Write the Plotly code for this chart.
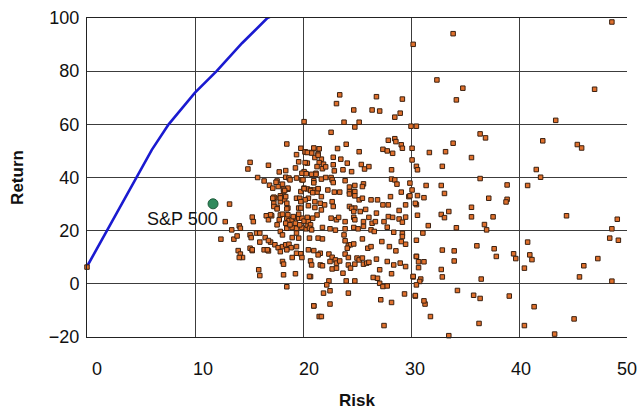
import plotly.graph_objects as go

# ---------------- data ----------------
frontier_risk = [0.0, 1.85, 3.24, 4.63, 6.0, 7.56, 10.0, 12.0, 14.35, 16.7, 17.3]
frontier_return = [6.5, 20.0, 30.3, 40.0, 50.4, 60.0, 71.9, 80.0, 90.5, 100.0, 101.1]

sp500_risk = [11.67]
sp500_return = [30.1]
sp500_label = "S&P 500"

fund_risk = [
    0.0, 30.2,
    # right side (risk > 30)
    48.6, 33.9, 32.4, 34.8, 34.2, 47.0, 43.4, 36.4, 36.9, 42.2, 45.4, 45.8, 33.9, 31.7, 33.2, 35.6,
    32.9, 36.4, 38.9, 41.6, 42.0, 40.8, 31.4, 32.8, 33.1, 31.2, 37.2, 38.9,
    33.5, 32.8, 33.1, 35.6, 35.6, 37.6, 38.8, 44.4, 49.1, 48.6, 34.2, 31.6, 31.1, 36.8, 37.0, 48.4,
    49.2, 40.8, 36.1, 32.9, 34.0, 37.7, 37.9, 39.5, 39.7, 41.0, 41.2, 34.0, 47.3, 46.0, 40.5, 32.8,
    32.9, 45.6, 36.5, 48.6, 34.3, 35.8, 36.4, 39.1, 41.4, 45.1, 36.3, 40.5, 43.3, 33.5, 31.8, 31.3, 31.2,
    30.5, 30.6, 30.5, 30.5, 30.7, 31.2, 30.7, 30.2, 30.9, 30.8, 30.4,
    # risk 20-31, return above 29
    23.4, 26.8, 29.2, 23.1, 24.7, 26.4, 27.1, 29.0, 28.5, 23.8, 25.2, 24.8, 30.0, 30.5, 22.6, 27.9,
    28.5, 28.6, 29.1, 29.2, 27.4, 27.8, 28.3, 30.1, 24.0, 23.2, 25.2, 21.0, 20.2, 20.8, 21.5, 21.4,
    21.1, 21.7, 21.5, 21.9, 21.3, 21.8, 22.1, 22.8, 23.5, 20.4, 20.2, 22.8, 24.1, 22.9, 23.7, 24.5,
    25.4, 25.7, 26.1, 28.2, 20.8, 21.2, 21.0, 21.7, 22.1, 22.6, 22.7, 22.8, 23.9, 24.3, 24.8, 24.7,
    25.6, 25.5, 28.2, 28.5, 28.7, 29.9, 30.1, 20.4, 20.7, 21.0, 21.4, 21.3, 21.7, 22.3, 22.9, 23.4,
    24.3, 24.8, 24.8, 25.2, 25.5, 26.3, 26.9, 28.1, 29.8, 24.3, 24.8, 21.6, 22.7, 20.5, 20.2, 21.1,
    27.9, 30.4, 30.1, 30.5, 30.6, 29.1, 30.6, 29.9, 24.3,
    # risk 10-20, return above 29
    20.1, 18.5, 19.8, 20.2, 19.4, 15.1, 14.9, 16.8, 19.6, 20.2, 19.3, 17.8, 18.4, 20.1, 15.8, 16.4,
    18.4, 18.7, 18.8, 19.4, 19.9, 17.6, 16.9, 17.2, 17.7, 18.1, 18.2, 18.6, 18.2, 17.9, 18.1, 17.4,
    18.3, 19.4, 19.7, 19.8, 20.1, 19.8, 17.3, 17.9, 18.5, 13.2, 17.6, 18.6, 19.6,
    17.5, 18.6, 18.3, 19.9, 20.3, 21.2, 20.0, 21.0, 20.1, 20.7, 20.9, 21.4, 17.3, 17.9, 18.4, 21.4,
    20.8, 21.0, 20.4, 17.2,
    # risk 10-21, return below 30
    17.3, 17.6, 18.5, 19.8, 15.3, 15.4, 12.8, 16.6, 16.8, 17.1, 17.9, 17.8, 18.5, 18.7, 19.0, 19.3,
    19.6, 19.9, 17.6, 18.5, 19.0, 19.4, 19.9, 20.3, 14.1, 14.2, 13.4, 17.9, 15.7, 16.0, 16.5, 15.1,
    15.2, 18.1, 19.4, 19.6, 12.4, 13.6, 13.9, 19.0, 16.0, 17.0, 17.4, 17.7, 18.1, 18.4, 18.7, 18.9,
    19.4, 15.1, 15.3, 14.0, 14.2, 14.4, 14.1, 16.4, 16.8, 17.9, 18.5, 19.4, 19.8, 19.0, 19.9, 18.1,
    18.2, 15.9, 16.0, 18.2, 19.3, 18.5, 20.7, 21.0, 21.5, 16.8, 16.7, 15.3,
    17.0, 18.1, 18.6, 19.1, 19.6, 18.4, 18.8, 19.3, 19.7, 20.1, 20.4,
    # risk 20-31, return below 30
    20.5, 21.1, 21.7, 22.0, 22.8, 24.5, 24.7, 25.3, 25.8, 26.8, 27.4, 28.9, 29.5, 20.4, 20.5, 20.7,
    21.3, 20.9, 22.6, 23.1, 23.3, 23.9, 24.7, 24.8, 25.6, 26.1, 26.4, 26.7, 27.5, 27.9, 28.3, 28.9,
    29.5, 29.2, 20.6, 20.8, 21.8, 22.5, 23.0, 23.9, 24.7, 25.1, 25.6, 26.3, 26.6, 27.8, 28.4, 29.2,
    29.2, 23.8, 20.6, 21.4, 21.8, 23.9, 24.2, 24.4, 24.7, 24.1, 25.5, 26.0, 26.3, 27.3, 28.0, 29.5,
    28.6, 29.1, 20.5, 21.0, 21.6, 21.4, 22.4, 22.7, 23.9, 24.2, 25.0, 25.2, 25.5, 26.8, 30.5, 20.7,
    20.8, 21.6, 21.8, 22.5, 23.0, 23.1, 23.4, 22.7, 23.1, 24.2, 24.4, 24.8, 25.6, 25.9, 26.1, 27.1,
    27.8, 28.4, 29.0, 29.5, 20.6, 22.4, 22.2, 23.7, 24.0, 24.8, 26.5, 26.9, 28.2, 27.1, 27.4, 27.8,
    30.2, 30.5, 21.9, 22.5, 24.2, 29.4, 30.4, 27.2, 28.2, 21.0, 22.5, 21.7, 27.5,
]

fund_return = [
    6.3, 90.1,
    98.5, 94.1, 76.7, 73.6, 69.2, 73.2, 61.5, 56.4, 54.9, 53.8, 52.4, 51.1, 52.9, 49.4, 49.7, 47.5,
    44.2, 39.6, 37.2, 43.0, 40.1, 37.0, 37.0, 37.0, 34.0, 32.4, 32.2, 31.8,
    27.2, 26.1, 24.9, 28.8, 25.2, 25.2, 30.8, 25.6, 24.3, 20.7, 21.1, 21.9, 19.1, 22.3, 20.3, 17.2,
    16.4, 15.7, 14.3, 12.7, 12.4, 13.2, 10.3, 11.3, 9.5, 10.9, 9.1, 8.6, 9.5, 6.8, 5.9, 5.4,
    2.6, 2.6, 1.8, 1.0, -2.5, -4.3, -5.5, -4.6, -8.6, -13.2, -14.9, -15.7, -18.9, -19.5, -12.3, -7.6, -6.4,
    29.8, 25.8, 16.4, 10.3, 8.3, 8.3, 6.1, 2.6, 1.8, 0.9, -4.6,
    71.1, 70.4, 69.5, 67.8, 65.4, 65.4, 65.0, 64.2, 62.7, 60.8, 60.8, 59.0, 59.3, 59.3, 57.0, 54.0,
    54.6, 53.5, 52.3, 51.0, 50.6, 50.0, 49.1, 51.0, 52.5, 50.9, 49.7, 50.9, 49.6, 49.4, 50.8, 48.9,
    47.5, 46.9, 45.6, 45.0, 44.1, 43.3, 44.0, 47.6, 46.9, 45.4, 41.6, 44.8, 45.4, 42.5, 42.9, 42.2,
    44.9, 43.2, 44.1, 42.9, 41.2, 41.6, 38.8, 39.4, 40.0, 40.0, 39.1, 38.1, 38.8, 36.4, 37.0, 34.7,
    37.6, 36.6, 39.4, 39.1, 37.5, 37.9, 35.3, 35.7, 35.3, 35.3, 35.7, 34.5, 32.8, 35.3, 34.5, 34.5,
    34.7, 34.7, 33.1, 31.6, 32.2, 31.6, 31.6, 32.8, 32.8, 29.1, 28.5, 30.3, 30.9, 32.2, 31.6, 30.9,
    29.7, 30.3, 46.6, 44.2, 42.9, 34.5, 33.2, 33.1, 33.8,
    61.0, 52.6, 51.0, 49.6, 48.6, 45.7, 43.2, 44.6, 45.9, 45.6, 43.6, 42.1, 42.6, 42.2, 40.0, 38.7,
    40.1, 39.8, 39.1, 39.8, 39.1, 38.7, 37.1, 36.0, 36.6, 37.5, 35.6, 35.6, 34.7, 33.1, 32.4, 32.3,
    31.6, 32.2, 32.2, 34.7, 36.0, 30.9, 30.3, 30.9, 30.3, 30.0, 28.8, 28.5, 28.5,
    38.2, 36.0, 35.1, 41.6, 41.4, 41.2, 39.1, 38.0, 35.8, 35.1, 34.3, 35.8, 32.6, 32.3, 32.8, 48.4,
    49.2, 51.1, 49.4, 32.2,
    29.1, 28.2, 28.2, 28.5, 25.1, 23.4, 23.4, 25.6, 24.1, 25.6, 25.9, 24.1, 24.7, 23.7, 24.1, 24.9,
    24.7, 24.7, 22.2, 20.9, 21.2, 20.9, 21.2, 20.7, 21.8, 20.9, 20.3, 19.7, 19.1, 19.1, 17.4, 18.4,
    17.4, 18.4, 19.1, 17.2, 16.8, 16.8, 18.0, 17.4, 15.7, 15.7, 14.7, 13.6, 14.0, 14.7, 14.9, 13.6,
    14.0, 13.4, 12.5, 12.5, 11.2, 9.9, 9.9, 12.8, 12.4, 12.1, 12.8, 11.5, 11.3, 9.9, 9.9, 8.4,
    7.4, 5.3, 3.1, 3.4, 3.8, -1.1, 2.7, -8.3, -12.3, 16.3, 12.8, 12.8,
    26.0, 26.2, 26.0, 25.3, 26.2, 22.8, 22.2, 22.8, 22.2, 23.6, 22.0,
    29.4, 28.7, 27.8, 29.7, 29.1, 28.4, 27.2, 27.2, 28.0, 26.6, 29.7, 27.6, 29.7, 25.0, 23.4, 22.2,
    25.9, 24.7, 24.7, 24.1, 25.0, 23.4, 25.0, 24.1, 23.4, 25.0, 22.8, 23.4, 23.4, 25.3, 25.0, 24.4,
    25.1, 23.2, 20.9, 20.3, 21.2, 20.7, 20.2, 20.7, 21.2, 20.7, 21.6, 20.3, 19.7, 21.3, 19.4, 19.0,
    17.8, 18.4, 17.2, 17.2, 16.9, 16.2, 14.4, 14.7, 15.0, 13.4, 16.9, 13.4, 14.0, 15.9, 14.0, 14.9,
    12.4, 15.9, 12.8, 12.5, 11.5, 10.9, 11.2, 10.0, 11.2, 9.9, 9.7, 9.0, 9.7, 9.3, 10.3, 8.6,
    7.1, 7.1, 6.8, 8.4, 9.0, 7.8, 8.6, 5.6, 5.9, 7.1, 5.9, 7.4, 7.4, 7.8, 8.1, 5.3,
    8.4, 7.1, 7.8, 6.5, 2.8, 1.1, -0.4, 4.0, 1.1, 1.1, 2.4, 2.1, 3.8, 0.2, -1.0, -0.8,
    2.8, -0.4, -3.5, -2.6, -3.5, -3.8, -4.4, -6.0, -7.0, -8.3, -7.6, -12.3, -15.7,
]

x_ticks = [0, 10, 20, 30, 40, 50]
y_ticks = [-20, 0, 20, 40, 60, 80, 100]

FONT = "Liberation Sans, Arial, sans-serif"

fig = go.Figure()

fig.add_trace(go.Scatter(
    x=frontier_risk, y=frontier_return, mode="lines",
    line=dict(color="#1a1ad0", width=2.6),
    showlegend=False, hoverinfo="skip", cliponaxis=False,
))

fig.add_trace(go.Scatter(
    x=fund_risk, y=fund_return, mode="markers",
    marker=dict(symbol="square", size=4.5, color="#e0702c",
                line=dict(color="#3a2010", width=1)),
    showlegend=False, cliponaxis=False,
))

fig.add_trace(go.Scatter(
    x=sp500_risk, y=sp500_return, mode="markers",
    marker=dict(symbol="circle", size=10, color="#2f8a5c",
                line=dict(color="#1d5a3a", width=1)),
    showlegend=False, cliponaxis=False,
))

# dummy trace to activate the label axis
fig.add_trace(go.Scatter(x=[None], y=[None], xaxis="x2", mode="markers",
                         showlegend=False, hoverinfo="skip"))

fig.add_annotation(
    x=sp500_risk[0], y=sp500_return[0], text=sp500_label, showarrow=False,
    xanchor="right", yanchor="top", xshift=7, yshift=-3,
    font=dict(family=FONT, size=18, color="#111111"),
)

fig.update_layout(
    width=641, height=411,
    margin=dict(l=87, r=14, t=18, b=74, autoexpand=False),
    paper_bgcolor="white", plot_bgcolor="white",
    font=dict(family=FONT, color="#111111"),
    xaxis=dict(
        range=[0, 50], tickvals=[10, 20, 30, 40], showticklabels=False,
        showgrid=True, gridcolor="#3c3c3c", gridwidth=1, zeroline=False,
        showline=True, mirror=True, linecolor="#222222", linewidth=1,
        ticks="", automargin=False,
    ),
    xaxis2=dict(
        overlaying="x", anchor="y", side="bottom",
        range=[-0.94, 50], tickvals=x_ticks, showgrid=False, zeroline=False,
        showline=False, ticks="outside", ticklen=15, tickcolor="rgba(0,0,0,0)",
        tickfont=dict(family=FONT, size=18, color="#111111"), automargin=False,
        title=dict(text="<b>Risk</b>", font=dict(family=FONT, size=17, color="#111111"),
                   standoff=16),
    ),
    yaxis=dict(
        range=[-20, 100], tickvals=y_ticks, showgrid=True, gridcolor="#3c3c3c",
        gridwidth=1, zeroline=False, showline=True, linecolor="#222222", linewidth=1,
        ticks="outside", ticklen=3, tickcolor="rgba(0,0,0,0)", automargin=False,
        tickfont=dict(family=FONT, size=18, color="#111111"),
        title=dict(text="<b>Return</b>", font=dict(family=FONT, size=17, color="#111111"),
                   standoff=20),
    ),
)

fig.write_html(
    "out.html",
    config={"displayModeBar": False},
    post_script="document.body.style.margin='0';document.body.style.overflow='hidden';",
)
